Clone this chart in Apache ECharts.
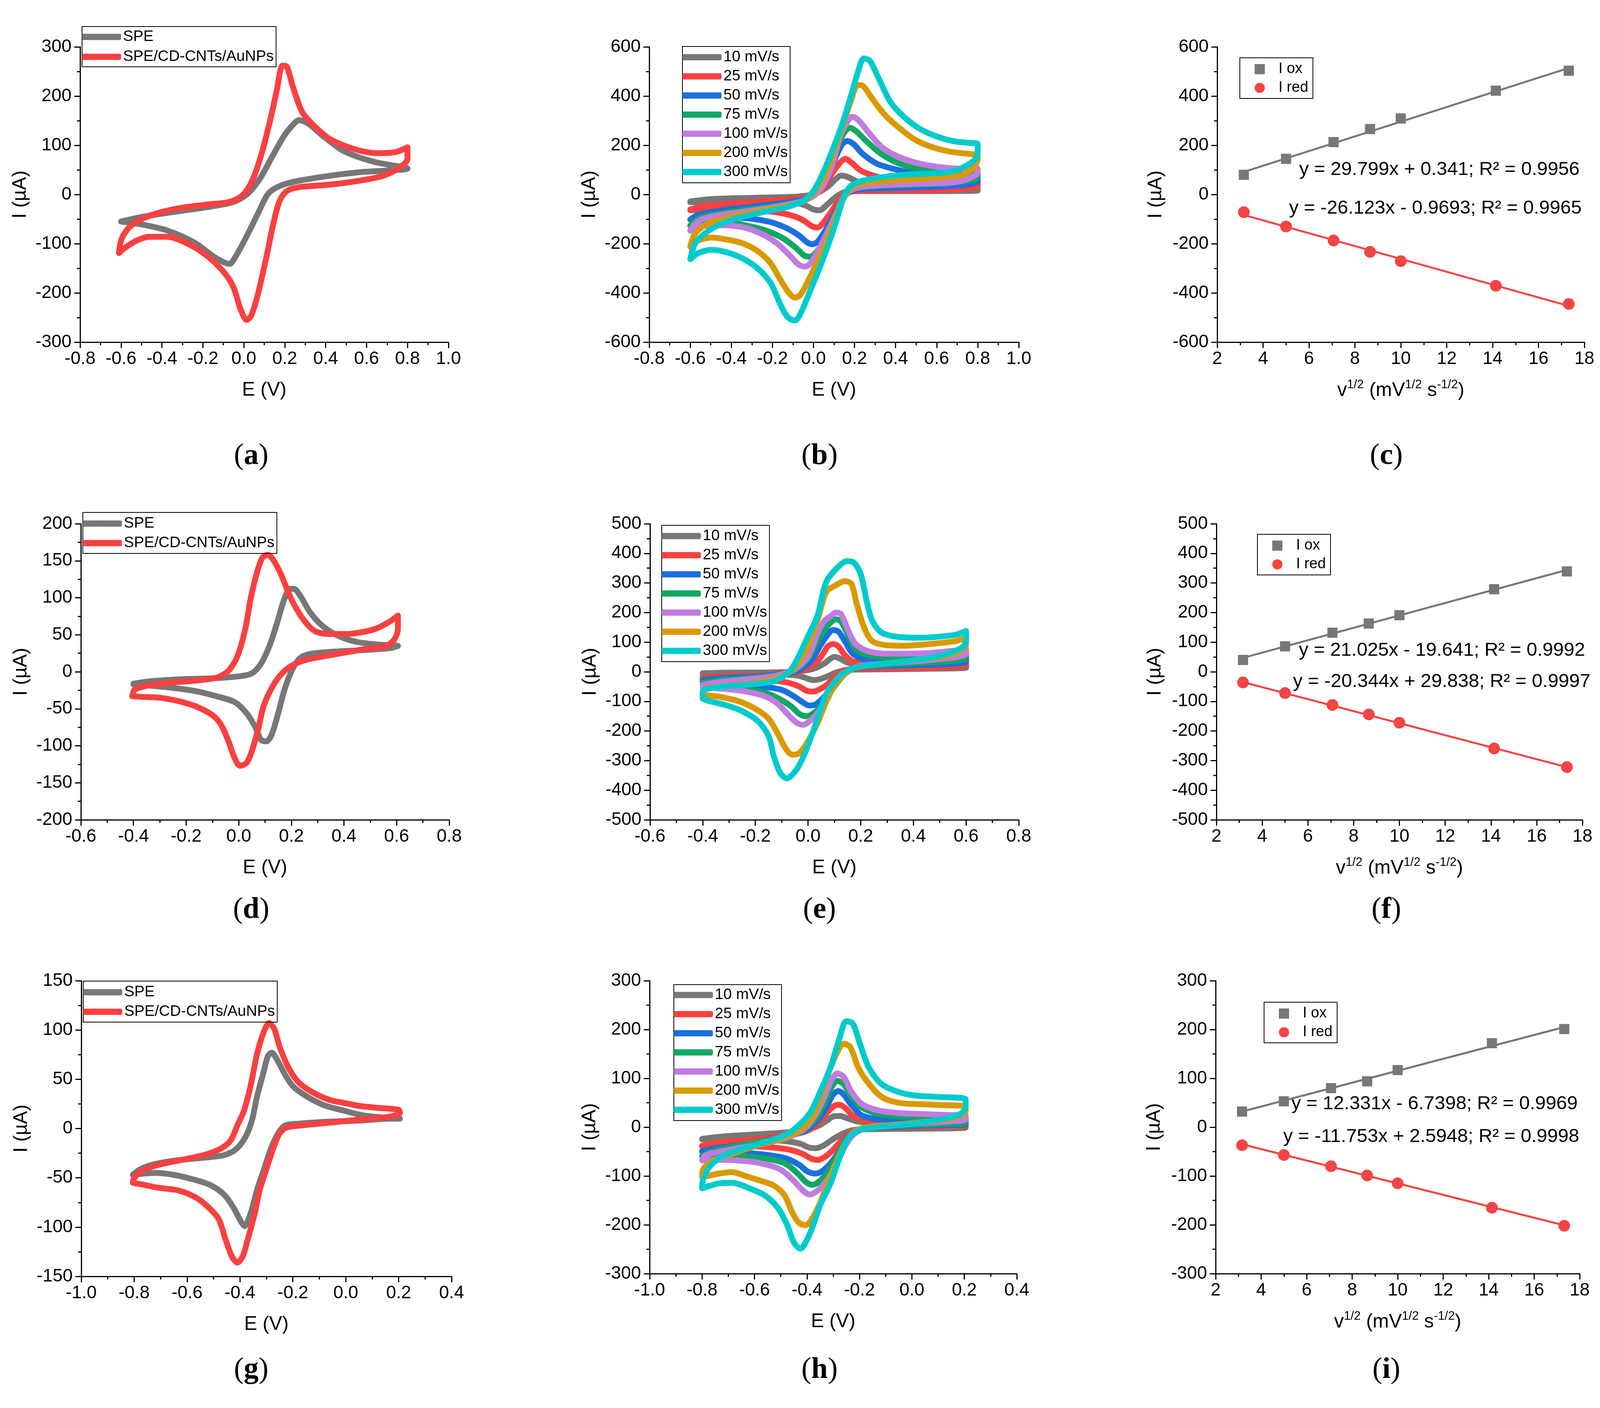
<!DOCTYPE html>
<html>
<head>
<meta charset="utf-8">
<script src="https://cdn.jsdelivr.net/npm/echarts@6.0.0/dist/echarts.min.js"></script>
<style>
  html, body { margin: 0; padding: 0; background: #fff; }
  #chart { width: 4113px; height: 3605px; }
</style>
</head>
<body>
<div id="chart"></div>
<script>
// ---------- data ----------
// (a) CV: SPE vs SPE/CD-CNTs/AuNPs, [E (V), I (uA)]
const aSPE = [[-0.60,-55],[-0.49,-45],[-0.32,-34],[-0.17,-25],[-0.05,-15],[0.02,2],[0.08,33],[0.14,78],[0.20,121],[0.25,146],[0.27,151],[0.315,144],[0.39,118],[0.49,88],[0.64,66],[0.80,53],
  [0.56,45],[0.42,38],[0.27,28],[0.18,18],[0.12,2],[0.07,-38],[0.01,-88],[-0.04,-126],[-0.07,-141],[-0.14,-128],[-0.24,-98],[-0.375,-73],[-0.51,-60],[-0.60,-55]];
const aMod = [[-0.61,-119],[-0.595,-88],[-0.55,-63],[-0.46,-43],[-0.32,-28],[-0.17,-20],[-0.07,-15],[-0.01,-3],[0.035,23],[0.08,73],[0.125,144],[0.16,209],[0.19,262],[0.21,260],[0.24,219],[0.285,168],[0.345,139],[0.42,113],[0.535,93],[0.65,84],[0.74,86],[0.80,96],
  [0.80,73],[0.755,53],[0.68,38],[0.565,28],[0.42,20],[0.27,15],[0.21,7],[0.175,-13],[0.145,-58],[0.11,-128],[0.065,-209],[0.035,-247],[0.014,-255],[-0.015,-234],[-0.05,-189],[-0.095,-159],[-0.17,-128],[-0.26,-103],[-0.375,-86],[-0.46,-86],[-0.52,-93],[-0.58,-108],[-0.61,-119]];

// (b) CV at scan rates
const b10 = [[-0.60,-28],[-0.48,-18],[-0.27,-13],[-0.07,-8],[0.01,4],[0.07,32],[0.11,64],[0.135,77],[0.165,72],[0.21,54],[0.28,36],[0.41,26],[0.60,22],[0.80,24],
  [0.80,16],[0.60,14],[0.28,14],[0.185,14],[0.14,6],[0.10,-16],[0.06,-46],[0.03,-64],[0.0,-61],[-0.035,-46],[-0.10,-31],[-0.23,-26],[-0.42,-28],[-0.60,-31]];
const b25 = [[-0.60,-61],[-0.54,-48],[-0.42,-38],[-0.26,-28],[-0.10,-18],[-0.02,-8],[0.045,24],[0.09,85],[0.13,130],[0.155,145],[0.185,130],[0.225,100],[0.28,80],[0.38,59],[0.52,49],[0.68,44],[0.80,49],
  [0.80,34],[0.74,24],[0.60,18],[0.36,16],[0.22,14],[0.17,9],[0.13,-16],[0.09,-66],[0.05,-112],[0.02,-134],[-0.007,-129],[-0.045,-107],[-0.10,-87],[-0.19,-71],[-0.32,-64],[-0.46,-62],[-0.60,-64]];
const b50 = [[-0.60,-102],[-0.56,-82],[-0.46,-66],[-0.32,-51],[-0.16,-36],[-0.05,-21],[0.01,4],[0.06,54],[0.105,145],[0.14,205],[0.165,217],[0.195,205],[0.24,165],[0.31,125],[0.41,100],[0.52,80],[0.68,69],[0.80,67],
  [0.80,54],[0.74,39],[0.60,32],[0.36,26],[0.22,21],[0.165,4],[0.13,-36],[0.09,-97],[0.05,-157],[0.02,-192],[-0.005,-202],[-0.03,-195],[-0.07,-167],[-0.13,-137],[-0.21,-112],[-0.32,-97],[-0.43,-92],[-0.53,-94],[-0.60,-102]];
const b75 = [[-0.60,-127],[-0.56,-97],[-0.46,-77],[-0.32,-61],[-0.16,-44],[-0.05,-26],[0.01,4],[0.06,64],[0.105,165],[0.145,246],[0.178,271],[0.21,256],[0.26,215],[0.33,165],[0.42,125],[0.535,100],[0.68,90],[0.80,85],
  [0.80,69],[0.74,54],[0.60,44],[0.44,39],[0.28,32],[0.20,24],[0.155,-1],[0.125,-56],[0.085,-127],[0.045,-197],[0.005,-243],[-0.02,-253],[-0.045,-248],[-0.085,-217],[-0.15,-177],[-0.23,-147],[-0.32,-127],[-0.43,-112],[-0.53,-112],[-0.58,-119],[-0.60,-127]];
const b100 = [[-0.60,-147],[-0.56,-107],[-0.48,-87],[-0.35,-71],[-0.19,-51],[-0.07,-31],[0.0,-6],[0.045,34],[0.09,115],[0.13,236],[0.165,296],[0.19,316],[0.22,301],[0.265,256],[0.33,195],[0.41,155],[0.52,125],[0.63,110],[0.725,105],[0.80,105],
  [0.80,90],[0.755,64],[0.68,49],[0.52,44],[0.36,39],[0.25,32],[0.185,19],[0.145,-16],[0.105,-87],[0.06,-167],[0.01,-248],[-0.025,-288],[-0.045,-293],[-0.075,-283],[-0.115,-248],[-0.18,-197],[-0.26,-157],[-0.35,-132],[-0.45,-125],[-0.53,-127],[-0.58,-137],[-0.60,-147]];
const b200 = [[-0.60,-212],[-0.575,-157],[-0.51,-117],[-0.385,-87],[-0.225,-61],[-0.10,-41],[-0.035,-21],[0.01,14],[0.06,85],[0.105,185],[0.145,286],[0.185,387],[0.215,445],[0.24,442],[0.28,397],[0.345,326],[0.41,276],[0.49,225],[0.57,195],[0.66,175],[0.755,165],[0.80,160],
  [0.80,145],[0.775,105],[0.725,80],[0.63,69],[0.44,59],[0.28,49],[0.20,34],[0.17,14],[0.14,-26],[0.105,-97],[0.06,-197],[0.01,-288],[-0.03,-358],[-0.065,-409],[-0.09,-419],[-0.12,-399],[-0.16,-348],[-0.21,-278],[-0.275,-228],[-0.35,-197],[-0.43,-182],[-0.495,-175],[-0.545,-182],[-0.585,-197],[-0.60,-212]];
const b300 = [[-0.60,-263],[-0.575,-197],[-0.51,-147],[-0.415,-107],[-0.275,-77],[-0.13,-51],[-0.05,-26],[0.0,14],[0.045,85],[0.09,175],[0.14,286],[0.185,407],[0.22,507],[0.245,553],[0.275,543],[0.315,477],[0.375,376],[0.44,316],[0.52,266],[0.60,236],[0.68,217],[0.755,210],[0.80,205],
  [0.80,185],[0.79,145],[0.74,115],[0.68,95],[0.60,87],[0.44,80],[0.28,64],[0.20,44],[0.17,24],[0.145,-16],[0.115,-97],[0.075,-197],[0.03,-298],[-0.02,-399],[-0.06,-479],[-0.09,-512],[-0.125,-499],[-0.16,-449],[-0.21,-358],[-0.275,-298],[-0.35,-258],[-0.43,-233],[-0.50,-225],[-0.56,-238],[-0.60,-263]];

// (c) peak currents vs sqrt(scan rate)
const sqrtRate = [3.162, 5.0, 7.071, 8.660, 10.0, 14.142, 17.321];
const cOx = [80, 145, 213, 266, 309, 422, 503];
const cRed = [-72, -130, -187, -233, -271, -371, -445];
const cOxFit = [[3.16, 92], [17.32, 514]];
const cRedFit = [[3.16, -83], [17.32, -453]];

// (d)
const dSPE = [[-0.40,-16],[-0.34,-13],[-0.22,-10],[-0.11,-9],[0.005,-6],[0.05,-2],[0.085,11],[0.12,38],[0.15,71],[0.17,95],[0.195,112],[0.21,112],[0.235,102],[0.27,81],[0.315,63],[0.37,50],[0.44,41],[0.52,37],[0.605,35],
  [0.575,32],[0.46,29],[0.35,27],[0.27,24],[0.235,19],[0.205,4],[0.175,-23],[0.15,-56],[0.125,-85],[0.105,-94],[0.085,-92],[0.065,-76],[0.03,-56],[-0.015,-41],[-0.085,-33],[-0.165,-26],[-0.27,-21],[-0.36,-18],[-0.40,-17]];
const dMod = [[-0.405,-33],[-0.395,-24],[-0.35,-19],[-0.27,-15],[-0.165,-12],[-0.085,-8],[-0.04,1],[-0.005,21],[0.025,58],[0.045,98],[0.07,135],[0.09,154],[0.11,158],[0.13,152],[0.16,132],[0.20,98],[0.245,71],[0.29,55],[0.35,51],[0.405,51],[0.46,53],[0.52,58],[0.575,68],[0.605,76],
  [0.605,58],[0.59,43],[0.555,34],[0.485,31],[0.405,26],[0.325,21],[0.255,16],[0.205,9],[0.165,-2],[0.13,-19],[0.095,-46],[0.075,-76],[0.05,-107],[0.03,-123],[0.005,-127],[-0.015,-117],[-0.04,-93],[-0.065,-73],[-0.095,-60],[-0.155,-48],[-0.225,-40],[-0.30,-35],[-0.36,-34],[-0.405,-33]];

// (e)
const e10 = [[-0.40,-5],[-0.30,-3],[-0.13,-2],[-0.03,2],[0.02,10],[0.06,27],[0.085,44],[0.10,50],[0.12,45],[0.15,31],[0.195,23],[0.305,19],[0.49,17],[0.60,23],
  [0.60,14],[0.43,10],[0.245,8],[0.145,6],[0.105,-3],[0.075,-15],[0.045,-25],[0.02,-28],[-0.005,-22],[-0.04,-13],[-0.13,-8],[-0.25,-7],[-0.40,-7]];
const e25 = [[-0.40,-19],[-0.325,-15],[-0.19,-11],[-0.08,-5],[-0.015,6],[0.035,35],[0.06,65],[0.075,86],[0.095,94],[0.115,86],[0.14,56],[0.17,35],[0.23,27],[0.37,25],[0.49,27],[0.60,37],
  [0.60,23],[0.49,14],[0.305,12],[0.18,10],[0.13,2],[0.10,-19],[0.07,-45],[0.04,-61],[0.02,-67],[-0.005,-64],[-0.035,-49],[-0.08,-36],[-0.15,-28],[-0.275,-24],[-0.40,-24]];
const e50 = [[-0.40,-28],[-0.325,-21],[-0.20,-15],[-0.10,-8],[-0.04,3],[0.01,35],[0.045,86],[0.07,120],[0.095,141],[0.115,136],[0.14,103],[0.17,61],[0.22,40],[0.305,34],[0.43,35],[0.55,40],[0.60,48],
  [0.60,35],[0.55,27],[0.43,23],[0.305,20],[0.195,16],[0.15,2],[0.115,-28],[0.08,-66],[0.05,-95],[0.025,-112],[0.005,-114],[-0.015,-106],[-0.055,-82],[-0.10,-61],[-0.18,-49],[-0.275,-39],[-0.40,-32]];
const e75 = [[-0.40,-36],[-0.325,-28],[-0.20,-19],[-0.115,-11],[-0.055,3],[0.0,44],[0.035,103],[0.065,145],[0.09,170],[0.105,177],[0.125,170],[0.15,128],[0.18,77],[0.23,56],[0.305,48],[0.43,50],[0.55,56],[0.60,65],
  [0.60,48],[0.55,37],[0.43,31],[0.305,24],[0.195,17],[0.15,0],[0.115,-32],[0.075,-82],[0.04,-125],[0.01,-146],[-0.01,-150],[-0.035,-141],[-0.065,-116],[-0.11,-91],[-0.165,-70],[-0.25,-57],[-0.325,-49],[-0.40,-42]];
const e100 = [[-0.40,-45],[-0.35,-36],[-0.225,-25],[-0.13,-15],[-0.055,6],[0.0,52],[0.035,128],[0.06,170],[0.085,187],[0.105,200],[0.125,195],[0.15,145],[0.18,94],[0.23,69],[0.305,61],[0.43,62],[0.55,71],[0.60,79],
  [0.60,61],[0.55,48],[0.43,37],[0.305,29],[0.195,19],[0.145,-3],[0.105,-40],[0.07,-91],[0.035,-141],[0.0,-171],[-0.02,-179],[-0.045,-171],[-0.08,-141],[-0.115,-108],[-0.165,-82],[-0.24,-66],[-0.325,-57],[-0.40,-53]];
const e200 = [[-0.40,-70],[-0.385,-57],[-0.30,-47],[-0.19,-36],[-0.105,-17],[-0.055,10],[-0.005,77],[0.04,187],[0.07,271],[0.105,292],[0.14,306],[0.165,296],[0.185,229],[0.215,145],[0.245,103],[0.295,90],[0.365,88],[0.465,94],[0.555,103],[0.60,115],
  [0.60,94],[0.575,69],[0.515,52],[0.365,35],[0.245,23],[0.18,14],[0.14,-7],[0.105,-40],[0.07,-99],[0.035,-175],[-0.005,-242],[-0.035,-276],[-0.06,-280],[-0.085,-259],[-0.115,-209],[-0.15,-158],[-0.20,-125],[-0.265,-99],[-0.34,-84],[-0.40,-78]];
const e300 = [[-0.40,-91],[-0.40,-66],[-0.35,-53],[-0.25,-45],[-0.13,-32],[-0.07,2],[-0.04,44],[-0.005,111],[0.035,187],[0.07,305],[0.12,359],[0.15,374],[0.175,368],[0.20,330],[0.225,229],[0.245,170],[0.28,132],[0.34,118],[0.43,115],[0.515,120],[0.565,126],[0.60,138],
  [0.60,111],[0.59,86],[0.555,69],[0.49,52],[0.365,35],[0.245,23],[0.18,14],[0.13,-7],[0.095,-40],[0.07,-74],[0.045,-133],[0.02,-200],[-0.005,-259],[-0.03,-310],[-0.055,-343],[-0.08,-360],[-0.105,-343],[-0.13,-285],[-0.15,-217],[-0.19,-167],[-0.25,-133],[-0.315,-112],[-0.375,-99],[-0.40,-91]];

// (f)
const fOx = [40, 86, 132, 163, 191, 279, 339];
const fRed = [-36, -72, -112, -144, -172, -259, -322];
const fOxFit = [[3.16, 47], [17.32, 344]];
const fRedFit = [[3.16, -35], [17.32, -322]];

// (g)
const gSPE = [[-0.805,-47],[-0.775,-41],[-0.72,-36],[-0.63,-32],[-0.515,-29],[-0.46,-27],[-0.415,-21],[-0.38,-9],[-0.355,8],[-0.335,33],[-0.31,58],[-0.295,73],[-0.28,77],[-0.26,70],[-0.23,55],[-0.20,43],[-0.15,33],[-0.085,24],[-0.005,18],[0.075,13],[0.205,10],
  [0.165,10],[0.05,8],[-0.06,7],[-0.175,5],[-0.23,3],[-0.26,-7],[-0.285,-22],[-0.31,-42],[-0.335,-62],[-0.355,-82],[-0.372,-95],[-0.382,-99],[-0.395,-95],[-0.425,-80],[-0.46,-67],[-0.515,-57],[-0.585,-51],[-0.65,-47],[-0.72,-45],[-0.775,-46],[-0.805,-47]];
const gMod = [[-0.805,-55],[-0.80,-50],[-0.765,-42],[-0.695,-36],[-0.605,-31],[-0.525,-26],[-0.47,-20],[-0.435,-12],[-0.41,3],[-0.385,18],[-0.36,43],[-0.335,76],[-0.31,98],[-0.29,107],[-0.27,101],[-0.25,83],[-0.215,61],[-0.175,46],[-0.12,36],[-0.06,29],[-0.005,26],[0.05,23],[0.12,21],[0.20,19],
  [0.205,16],[0.165,12],[0.05,9],[-0.06,6],[-0.175,3],[-0.225,1],[-0.25,-5],[-0.27,-17],[-0.295,-37],[-0.325,-62],[-0.345,-87],[-0.37,-112],[-0.39,-130],[-0.41,-136],[-0.43,-130],[-0.455,-112],[-0.48,-92],[-0.515,-81],[-0.56,-71],[-0.63,-63],[-0.71,-60],[-0.765,-57],[-0.805,-55]];

// (h)
const h10 = [[-0.80,-24],[-0.72,-19],[-0.60,-15],[-0.485,-11],[-0.41,-6],[-0.36,2],[-0.325,13],[-0.30,22],[-0.275,23],[-0.25,19],[-0.21,12],[-0.15,7],[-0.025,3],[0.10,2],[0.205,2],
  [0.205,-1],[0.035,-3],[-0.15,-4],[-0.225,-6],[-0.27,-15],[-0.305,-26],[-0.335,-37],[-0.365,-43],[-0.39,-42],[-0.425,-34],[-0.475,-29],[-0.55,-26],[-0.67,-25],[-0.80,-25]];
const h25 = [[-0.80,-38],[-0.735,-31],[-0.62,-26],[-0.525,-20],[-0.435,-13],[-0.385,-4],[-0.35,12],[-0.32,32],[-0.295,44],[-0.28,46],[-0.255,40],[-0.225,24],[-0.175,14],[-0.09,9],[0.035,7],[0.205,8],
  [0.205,3],[0.10,2],[-0.025,0],[-0.15,-1],[-0.205,-5],[-0.245,-15],[-0.275,-31],[-0.305,-49],[-0.335,-62],[-0.36,-67],[-0.385,-64],[-0.415,-55],[-0.46,-47],[-0.525,-42],[-0.62,-39],[-0.72,-39],[-0.80,-39]];
const h50 = [[-0.80,-49],[-0.735,-42],[-0.62,-34],[-0.525,-24],[-0.44,-14],[-0.395,-3],[-0.355,17],[-0.325,42],[-0.30,67],[-0.28,74],[-0.26,67],[-0.23,45],[-0.19,24],[-0.125,16],[-0.025,13],[0.10,12],[0.205,12],
  [0.205,6],[0.10,4],[-0.025,2],[-0.15,-1],[-0.205,-6],[-0.245,-21],[-0.275,-47],[-0.31,-74],[-0.345,-91],[-0.37,-95],[-0.40,-90],[-0.43,-77],[-0.48,-64],[-0.55,-57],[-0.645,-52],[-0.735,-50],[-0.80,-50]];
const h75 = [[-0.80,-59],[-0.745,-47],[-0.645,-36],[-0.535,-26],[-0.45,-15],[-0.40,-1],[-0.36,22],[-0.33,52],[-0.305,83],[-0.285,95],[-0.26,88],[-0.23,62],[-0.19,40],[-0.125,27],[-0.025,22],[0.10,20],[0.205,19],
  [0.205,9],[0.135,7],[0.01,4],[-0.115,2],[-0.19,-4],[-0.225,-13],[-0.26,-34],[-0.29,-64],[-0.325,-95],[-0.355,-112],[-0.38,-118],[-0.405,-112],[-0.435,-95],[-0.485,-74],[-0.56,-64],[-0.645,-60],[-0.735,-59],[-0.80,-60]];
const h100 = [[-0.80,-67],[-0.785,-57],[-0.72,-49],[-0.62,-39],[-0.525,-29],[-0.45,-16],[-0.40,2],[-0.36,32],[-0.33,67],[-0.305,98],[-0.285,110],[-0.26,103],[-0.23,72],[-0.19,47],[-0.125,34],[-0.05,29],[0.035,27],[0.125,25],[0.205,24],
  [0.205,16],[0.15,12],[0.035,8],[-0.09,4],[-0.175,-1],[-0.22,-14],[-0.255,-39],[-0.285,-74],[-0.325,-110],[-0.36,-130],[-0.39,-138],[-0.415,-130],[-0.45,-110],[-0.50,-87],[-0.575,-74],[-0.645,-69],[-0.72,-67],[-0.80,-68]];
const h200 = [[-0.80,-102],[-0.795,-85],[-0.76,-69],[-0.70,-57],[-0.60,-39],[-0.50,-24],[-0.435,-9],[-0.385,17],[-0.35,57],[-0.32,108],[-0.285,153],[-0.26,171],[-0.235,164],[-0.205,123],[-0.17,93],[-0.115,62],[-0.05,50],[0.035,47],[0.125,45],[0.205,42],
  [0.205,32],[0.175,22],[0.10,14],[-0.025,7],[-0.15,1],[-0.20,-4],[-0.23,-14],[-0.26,-39],[-0.295,-80],[-0.325,-120],[-0.355,-161],[-0.385,-191],[-0.405,-201],[-0.43,-196],[-0.455,-176],[-0.485,-140],[-0.525,-120],[-0.575,-110],[-0.635,-100],[-0.685,-92],[-0.735,-95],[-0.78,-100],[-0.80,-102]];
const h300 = [[-0.80,-125],[-0.795,-105],[-0.77,-80],[-0.72,-59],[-0.645,-44],[-0.55,-29],[-0.475,-14],[-0.425,7],[-0.385,32],[-0.35,72],[-0.31,123],[-0.275,184],[-0.25,217],[-0.225,212],[-0.20,174],[-0.165,123],[-0.115,88],[-0.05,72],[0.01,65],[0.10,62],[0.205,57],
  [0.205,42],[0.185,27],[0.135,19],[0.035,9],[-0.09,2],[-0.175,-3],[-0.22,-11],[-0.25,-29],[-0.28,-69],[-0.31,-115],[-0.35,-160],[-0.38,-206],[-0.405,-236],[-0.425,-249],[-0.45,-236],[-0.475,-201],[-0.51,-166],[-0.56,-140],[-0.62,-125],[-0.685,-114],[-0.735,-115],[-0.77,-120],[-0.80,-125]];

// (i)
const iOx = [32, 53, 80, 94, 117, 172, 201];
const iRed = [-37, -57, -80, -99, -115, -165, -202];
const iOxFit = [[3.16, 32], [17.32, 205]];
const iRedFit = [[3.16, -35], [17.32, -201]];

const rateNames = ['10 mV/s', '25 mV/s', '50 mV/s', '75 mV/s', '100 mV/s', '200 mV/s', '300 mV/s'];
const electrodeNames = ['SPE', 'SPE/CD-CNTs/AuNPs'];
const equations = {
  c: ['y = 29.799x + 0.341; R\u00b2 = 0.9956', 'y = -26.123x - 0.9693; R\u00b2 = 0.9965'],
  f: ['y = 21.025x - 19.641; R\u00b2 = 0.9992', 'y = -20.344x + 29.838; R\u00b2 = 0.9997'],
  i: ['y = 12.331x - 6.7398; R\u00b2 = 0.9969', 'y = -11.753x + 2.5948; R\u00b2 = 0.9998']
};

// axis ranges [min, max, interval]
const xRanges = { a: [-0.8, 1.0, 0.2], b: [-0.8, 1.0, 0.2], c: [2, 18, 2], d: [-0.6, 0.8, 0.2], e: [-0.6, 0.8, 0.2], f: [2, 18, 2], g: [-1.0, 0.4, 0.2], h: [-1.0, 0.4, 0.2], i: [2, 18, 2] };
const yRanges = { a: [-300, 300, 100], b: [-600, 600, 200], c: [-600, 600, 200], d: [-200, 200, 50], e: [-500, 500, 100], f: [-500, 500, 100], g: [-150, 150, 50], h: [-300, 300, 100], i: [-300, 300, 100] };

// ---------- styling / layout ----------
const FONT = 'Liberation Sans, Arial, sans-serif';
const rateColors = ['#777777', '#FA4040', '#1A6FDF', '#10A862', '#C07CE0', '#D99A00', '#00CBCC'];
const electrodeColors = ['#777777', '#FA4040'];
const panelKeys = ['a', 'b', 'c', 'd', 'e', 'f', 'g', 'h', 'i'];
const grids = {
  a: { left: 205, top: 120, width: 943, height: 756 },
  b: { left: 1662, top: 120, width: 946, height: 756 },
  c: { left: 3116, top: 120, width: 940, height: 756 },
  d: { left: 207, top: 1341, width: 943, height: 758 },
  e: { left: 1664, top: 1341, width: 944, height: 758 },
  f: { left: 3114, top: 1341, width: 937, height: 758 },
  g: { left: 208, top: 2511, width: 948, height: 757 },
  h: { left: 1663, top: 2511, width: 940, height: 750 },
  i: { left: 3112, top: 2511, width: 932, height: 750 }
};

const isFit = k => k === 'c' || k === 'f' || k === 'i';

const xAxes = panelKeys.map((k, idx) => ({
  type: 'value', gridIndex: idx,
  min: xRanges[k][0], max: xRanges[k][1], interval: xRanges[k][2],
  name: isFit(k) ? '{m|v}{s|1/2}{m| (mV}{s|1/2}{m| s}{s|-1/2}{m|)}' : 'E (V)',
  nameLocation: 'middle', nameGap: isFit(k) ? 94 : 98,
  nameTextStyle: isFit(k) ? {
    rich: {
      m: { fontSize: 50, fontFamily: FONT, color: '#000', lineHeight: 60 },
      s: { fontSize: 31, fontFamily: FONT, color: '#000', verticalAlign: 'top', lineHeight: 31 }
    }
  } : { fontSize: 50, fontFamily: FONT, color: '#000' },
  axisLine: { show: true, onZero: false, lineStyle: { color: '#000', width: 3 } },
  axisTick: { show: true, inside: false, length: 15, lineStyle: { color: '#000', width: 3 } },
  minorTick: { show: true, splitNumber: 2, length: 8, lineStyle: { color: '#000', width: 3 } },
  splitLine: { show: false },
  axisLabel: {
    fontSize: 46, fontFamily: FONT, color: '#000', margin: 20,
    formatter: v => isFit(k) ? String(Math.round(v)) : (Math.abs(v) < 1e-9 ? '0.0' : v.toFixed(1))
  }
}));

const yAxes = panelKeys.map((k, idx) => ({
  type: 'value', gridIndex: idx,
  min: yRanges[k][0], max: yRanges[k][1], interval: yRanges[k][2],
  name: 'I (\u00b5A)', nameLocation: 'middle', nameGap: isFit(k) ? 132 : 128,
  nameTextStyle: { fontSize: 50, fontFamily: FONT, color: '#000' },
  axisLine: { show: true, onZero: false, lineStyle: { color: '#000', width: 3 } },
  axisTick: { show: true, inside: false, length: 15, lineStyle: { color: '#000', width: 3 } },
  minorTick: { show: true, splitNumber: 2, length: 8, lineStyle: { color: '#000', width: 3 } },
  splitLine: { show: false },
  axisLabel: { fontSize: 46, fontFamily: FONT, color: '#000', margin: 22, formatter: v => String(Math.round(v)) }
}));

function cv(name, data, color, k) {
  const idx = panelKeys.indexOf(k);
  return {
    type: 'line', name: name, data: data, xAxisIndex: idx, yAxisIndex: idx,
    symbol: 'none', smooth: 0.3, animation: false,
    lineStyle: { color: color, width: 15, cap: 'round', join: 'round' },
    itemStyle: { color: color }
  };
}
function fitLine(data, color, k) {
  const idx = panelKeys.indexOf(k);
  return {
    type: 'line', data: data, xAxisIndex: idx, yAxisIndex: idx, symbol: 'none', animation: false, silent: true, z: 1,
    lineStyle: { color: color, width: 5 }
  };
}
function points(name, ys, color, symbol, size, k) {
  const idx = panelKeys.indexOf(k);
  return {
    type: 'scatter', name: name, data: sqrtRate.map((x, j) => [x, ys[j]]), xAxisIndex: idx, yAxisIndex: idx,
    symbol: symbol, symbolSize: size, animation: false, z: 3, itemStyle: { color: color, opacity: 1 }
  };
}

const series = [];
[['a', [aSPE, aMod]], ['d', [dSPE, dMod]], ['g', [gSPE, gMod]]].forEach(([k, arr]) => {
  arr.forEach((d, j) => series.push(cv(electrodeNames[j], d, electrodeColors[j], k)));
});
[['b', [b10, b25, b50, b75, b100, b200, b300]], ['e', [e10, e25, e50, e75, e100, e200, e300]], ['h', [h10, h25, h50, h75, h100, h200, h300]]].forEach(([k, arr]) => {
  arr.forEach((d, j) => series.push(cv(rateNames[j], d, rateColors[j], k)));
});
[['c', cOx, cRed, cOxFit, cRedFit], ['f', fOx, fRed, fOxFit, fRedFit], ['i', iOx, iRed, iOxFit, iRedFit]].forEach(([k, ox, red, oxFit, redFit]) => {
  series.push(fitLine(oxFit, '#777777', k));
  series.push(fitLine(redFit, '#F44444', k));
  series.push(points('I ox', ox, '#777777', 'rect', 26, k));
  series.push(points('I red', red, '#F44444', 'circle', 30, k));
});

// legends
function lineLegend(names, left, top, gap, pad) {
  return {
    orient: 'vertical', left: left, top: top, data: names, selectedMode: false,
    icon: 'roundRect', itemWidth: 100, itemHeight: 16, itemGap: gap, padding: pad,
    borderColor: '#000', borderWidth: 2,
    textStyle: { fontSize: 39, fontFamily: FONT, color: '#000', lineHeight: 38 }
  };
}
function pointLegend(left, top) {
  return {
    orient: 'vertical', left: left, top: top, data: ['I ox', 'I red'], selectedMode: false,
    itemWidth: 26, itemHeight: 26, itemGap: 10, padding: [10, 12, 8, 38],
    borderColor: '#000', borderWidth: 2,
    textStyle: { fontSize: 38, fontFamily: FONT, color: '#000', lineHeight: 38, padding: [0, 0, 0, 30] }
  };
}
const legends = [
  lineLegend(electrodeNames, 210, 68, 12, [7, 6, 6, 0]),
  lineLegend(electrodeNames, 212, 1312, 11, [9, 6, 7, 0]),
  lineLegend(electrodeNames, 213, 2512, 11, [9, 6, 7, 0]),
  lineLegend(rateNames, 1747, 119, 10, [8, 6, 8, 0]),
  lineLegend(rateNames, 1694, 1345, 10, [8, 6, 8, 0]),
  lineLegend(rateNames, 1725, 2521, 10, [7, 6, 8, 0]),
  pointLegend(3174, 148),
  pointLegend(3219, 1368),
  pointLegend(3236, 2566)
];

// panel letters and fit equations
const letterPos = { a: [643, 1168], b: [2098, 1168], c: [3549, 1168], d: [643, 2330], e: [2098, 2330], f: [3549, 2330], g: [643, 3508], h: [2098, 3508], i: [3549, 3508] };
const eqPos = { c: [[3326, 434], [3300, 533]], f: [[3325, 1665], [3310, 1745]], i: [[3306, 2826], [3285, 2910]] };
const graphics = [];
panelKeys.forEach(k => {
  graphics.push({
    type: 'text', x: letterPos[k][0], y: letterPos[k][1], silent: true,
    style: {
      text: '{p|(}{b|' + k + '}{p|)}', align: 'center', verticalAlign: 'middle', textAlign: 'center', textVerticalAlign: 'middle',
      rich: {
        p: { fontSize: 76, fontFamily: 'Liberation Serif, Times New Roman, serif', fill: '#000', color: '#000' },
        b: { fontSize: 76, fontFamily: 'Liberation Serif, Times New Roman, serif', fontWeight: 'bold', fill: '#000', color: '#000' }
      }
    }
  });
});
Object.keys(eqPos).forEach(k => {
  eqPos[k].forEach((p, j) => {
    graphics.push({
      type: 'text', x: p[0], y: p[1], silent: true,
      style: { text: equations[k][j], font: '49px ' + FONT, fill: '#000', align: 'left', verticalAlign: 'middle', textAlign: 'left', textVerticalAlign: 'middle' }
    });
  });
});

const chart = echarts.init(document.getElementById('chart'), null, { renderer: 'canvas' });
chart.setOption({
  backgroundColor: '#ffffff',
  animation: false,
  grid: panelKeys.map(k => Object.assign({ containLabel: false }, grids[k])),
  xAxis: xAxes,
  yAxis: yAxes,
  legend: legends,
  series: series,
  graphic: graphics
});
</script>
</body>
</html>
